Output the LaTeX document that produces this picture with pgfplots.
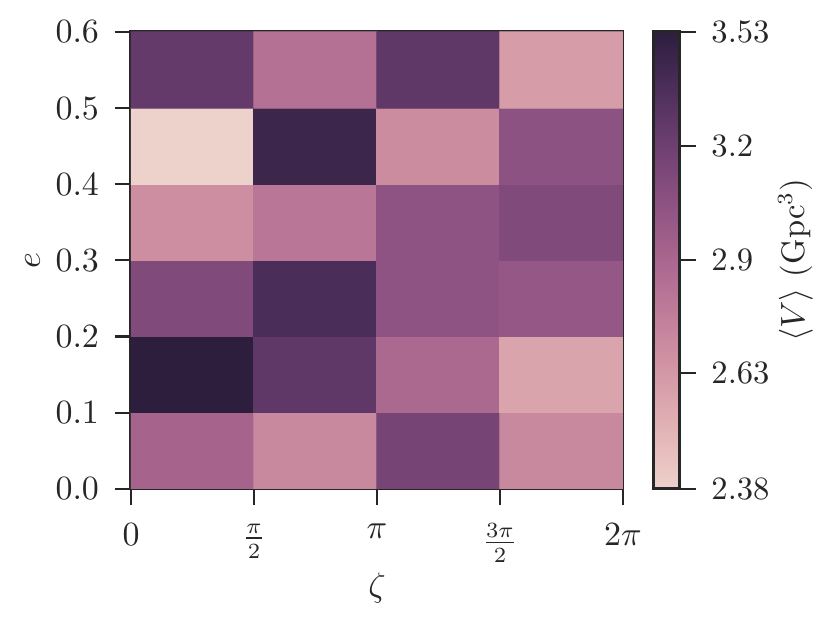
\documentclass[border=0pt]{standalone}
\usepackage{pgfplots}
\pgfplotsset{compat=1.18}
\definecolor{fg}{HTML}{262626}
\begin{document}
\begin{tikzpicture}
\useasboundingbox (-42.26pt,-43.2pt) rectangle (225.5pt,157.7pt);
\begin{axis}[
  at={(0,0)}, anchor=south west,
  scale only axis, width=158.7pt, height=147.4pt,
  xmin=0, xmax=4, ymin=0, ymax=0.6,
  enlargelimits=false,
  axis line style={fg, line width=1pt},
  every tick/.style={fg, line width=0.7pt},
  major tick length=5.3pt,
  tick align=outside,
  xtick pos=bottom, ytick pos=left,
  xtick={0,1,2,3,4},
  xticklabels={$0$,$\frac{\pi}{2}$,$\pi$,$\frac{3\pi}{2}$,$2\pi$},
  ytick={0,0.1,0.2,0.3,0.4,0.5,0.6},
  tick label style={fg, font=\fontsize{10.5}{12.6}\selectfont},
  label style={font=\fontsize{10.5}{12.6}\selectfont},
  xticklabel style={yshift=-2.4pt},
  yticklabel style={xshift=-1.5pt, /pgf/number format/.cd, fixed, fixed zerofill, precision=1},
  xlabel={$\zeta$}, ylabel={$e$},
  xlabel style={fg, at={(axis description cs:0.5,-0.2166)}, anchor=center},
  ylabel style={fg, at={(axis description cs:-0.2,0.5)}, anchor=center},
  colormap={cubehelix}{rgb255=(237,209,203) rgb255=(229,186,186) rgb255=(218,164,172) rgb255=(205,142,161) rgb255=(189,122,152) rgb255=(170,103,143) rgb255=(147,86,133) rgb255=(123,71,120) rgb255=(97,57,105) rgb255=(70,43,85) rgb255=(45,30,62)},
  point meta min=0.867100, point meta max=1.261298,
  colorbar,
  colorbar style={
    at={(parent axis.north east)}, anchor=north west, xshift=1.3pt,
    scale only axis, width=8.4pt, height=147.4pt,
    axis line style={fg, line width=1pt},
    every tick/.style={fg, line width=0.7pt},
    major tick length=5.3pt, tick align=outside,
    ytick pos=right, yticklabel pos=right,
    ytick={0.867100,0.966984,1.064711,1.163151,1.261298},
    yticklabels={2.38,2.63,2.9,3.2,3.53},
    tick label style={fg, font=\fontsize{10.5}{12.6}\selectfont},
    yticklabel style={xshift=1.5pt},
    ylabel={$\langle V\rangle$ (Gpc$^3$)},
    ylabel style={fg, font=\fontsize{10.5}{12.6}\selectfont, at={(axis description cs:5.46,0.5)}, anchor=center},
  },
]
\addplot[matrix plot*, mesh/cols=4, point meta=explicit, shader=flat corner]
  table[x=x, y=y, meta expr={ln(\thisrow{v})}] {
x   y     v
0.5 0.05  2.921
1.5 0.05  2.711
2.5 0.05  3.161
3.5 0.05  2.711
0.5 0.15  3.530
1.5 0.15  3.275
2.5 0.15  2.887
3.5 0.15  2.575
0.5 0.25  3.112
1.5 0.25  3.374
2.5 0.25  3.039
3.5 0.25  3.003
0.5 0.35  2.679
1.5 0.35  2.809
2.5 0.35  3.039
3.5 0.35  3.112
0.5 0.45  2.380
1.5 0.45  3.448
2.5 0.45  2.689
3.5 0.45  3.051
0.5 0.55  3.250
1.5 0.55  2.842
2.5 0.55  3.275
3.5 0.55  2.606
};
\end{axis}
\end{tikzpicture}
\end{document}
